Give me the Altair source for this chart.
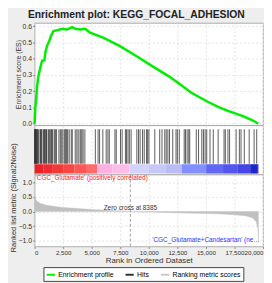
import altair as alt
import pandas as pd

chart_title = "Enrichment plot: KEGG_FOCAL_ADHESION"
pos_label = "'CGC_Glutamate' (positively correlated)"
neg_label = "'CGC_Glutamate+Candesartan' (negatively correlated)"
zero_cross = 8385
x_ticks = [0, 2500, 5000, 7500, 10000, 12500, 15000, 17500, 20000]
series_names = ["Enrichment profile", "Hits", "Ranking metric scores"]
series_colors = ["#00ee00", "#333333", "#c8c8c8"]

# running enrichment score
es_rank = [0, 57, 143, 229, 343, 515, 658, 858, 944, 1087, 1287, 1430, 1659, 2002,
           2431, 2860, 3289, 3575, 4004, 4433, 4862, 6006, 7436, 8866, 10296, 11726,
           12584, 13728, 15158, 16016, 16874, 18304, 19162, 19591]
es_val = [0.0, 0.095, 0.155, 0.236, 0.297, 0.347, 0.388, 0.388, 0.438, 0.479, 0.509,
          0.539, 0.57, 0.576, 0.584, 0.58, 0.594, 0.584, 0.58, 0.584, 0.56, 0.529,
          0.479, 0.418, 0.354, 0.293, 0.25, 0.19, 0.135, 0.105, 0.08, 0.045, 0.018, 0.0]

# hit positions in the ranked list
hits = [5, 20, 45, 70, 95, 130, 160, 200, 240, 290, 330, 470, 520, 580, 620, 750, 800,
        860, 920, 980, 1040, 1080, 1220, 1300, 1410, 1470, 1530, 1590, 1730, 1820, 1916,
        2130, 2250, 2340, 2470, 2600, 2680, 2750, 2820, 2900, 3031, 3210, 3300, 3560,
        3700, 3820, 3980, 4060, 4150, 4250, 4404, 5320, 5560, 5690, 5977, 6270, 6420,
        6540, 7036, 7150, 7522, 7665, 7951, 8050, 8180, 8300, 8450, 8952, 9100, 9238,
        9450, 9600, 9800, 9900, 10010, 10524, 10954, 11154, 11400, 11526, 11669, 11812,
        12098, 12384, 12500, 12670, 13099, 13213, 13356, 13499, 13585, 14157, 14357,
        14643, 14786, 14929, 15072, 15358, 15644, 16072, 16587, 16701, 16930, 17073,
        17645, 17931, 18074, 18361, 18790, 19219, 19448]

# ranked list metric (Signal2Noise)
metric_rank = [0, 30, 100, 250, 500, 1000, 1500, 2000, 2500, 3500, 5000, 6500, 8385,
               10000, 12000, 14000, 16000, 17500, 18500, 19100, 19400, 19550, 19600]
metric_val = [0.75, 0.55, 0.42, 0.34, 0.28, 0.22, 0.19, 0.16, 0.14, 0.11, 0.07, 0.04,
              0.0, -0.02, -0.04, -0.06, -0.08, -0.11, -0.15, -0.22, -0.35, -0.6, -1.05]

# colour bar segments
cb_start = [0, 800, 1600, 2500, 3500, 4500, 5500, 6800, 8320, 10000, 11500, 12870,
            15015, 16500, 17800, 18876, 19477]
cb_end = [800, 1600, 2500, 3500, 4500, 5500, 6800, 8320, 10000, 11500, 12870, 15015,
          16500, 17800, 18876, 19477, 19600]
cb_color = ["#e82228", "#ee2c30", "#f33838", "#f84646", "#fc5656", "#ff6a6a", "#ffb0e2",
            "#ffbce8", "#d2d2fa", "#c8c8f8", "#bcbcf5", "#8290ff", "#6068f4", "#5256ee",
            "#4646e6", "#1a26c8", "#5a2aa8"]

FONT = "Liberation Sans"
W = 232
x_scale = alt.Scale(domain=[0, 20000], nice=False)
stroke_scale = alt.Scale(domain=series_names, range=series_colors)
legend = alt.Legend(title=None, orient="none", legendX=9, legendY=248,
                    direction="horizontal",
                    symbolType="stroke", symbolStrokeWidth=2, symbolSize=70,
                    labelFontSize=7, labelFont=FONT, strokeColor="#444444",
                    fillColor="white", padding=2, columnPadding=7, labelOffset=2)

grid_axis = dict(gridColor="#dddddd", gridDash=[2, 2], gridWidth=0.8)
y_axis_style = dict(titleFontWeight="normal", titleFont=FONT,
                    titlePadding=1, labelFontSize=7, labelFont=FONT, tickSize=2,
                    labelPadding=1, domain=False, labelColor="#333333",
                    titleColor="#333333", **grid_axis)

plain_x_axis = alt.Axis(values=x_ticks, labels=False, ticks=False, domain=False,
                        title=None, **grid_axis)
bottom_x_axis = alt.Axis(values=x_ticks, format=",d", title="Rank in Ordered Dataset",
                         titleFontSize=8, titleFontWeight="normal", titleFont=FONT,
                         titlePadding=1, labelFontSize=6.3, labelFont=FONT, tickSize=2,
                         labelPadding=1, labelOverlap=False, labelFlush=True,
                         domain=False, labelColor="#333333", titleColor="#333333",
                         **grid_axis)

es_df = pd.DataFrame({"rank": es_rank, "es": es_val, "series": series_names[0]})
top = alt.Chart(es_df).mark_line(strokeWidth=2.5).encode(
    x=alt.X("rank:Q", scale=x_scale, axis=plain_x_axis),
    y=alt.Y("es:Q", scale=alt.Scale(domain=[-0.01, 0.62], nice=False, zero=False),
            axis=alt.Axis(values=[0, 0.1, 0.2, 0.3, 0.4, 0.5, 0.6], format=".1f",
                          title="Enrichment score (ES)", titleFontSize=7,
                          **y_axis_style)),
    stroke=alt.Stroke("series:N", scale=stroke_scale, legend=legend),
).properties(width=W, height=104)

hits_df = pd.DataFrame({"rank": hits, "series": series_names[1]})
hit_marks = alt.Chart(hits_df).mark_rule(strokeWidth=0.8).encode(
    x=alt.X("rank:Q", scale=x_scale, axis=plain_x_axis),
    y=alt.value(4), y2=alt.value(39),
    stroke=alt.Stroke("series:N", scale=stroke_scale, legend=legend),
)
cb_df = pd.DataFrame({"rank": cb_start, "end": cb_end, "c": cb_color})
cbar = alt.Chart(cb_df).mark_rect().encode(
    x=alt.X("rank:Q", scale=x_scale, axis=plain_x_axis), x2="end:Q",
    y=alt.value(39.5), y2=alt.value(49),
    fill=alt.Fill("c:N", scale=None),
)
mid = alt.layer(hit_marks, cbar).properties(width=W, height=50)

m_df = pd.DataFrame({"rank": metric_rank, "m": metric_val, "series": series_names[2]})
bx = alt.X("rank:Q", scale=x_scale, axis=bottom_x_axis)
area = alt.Chart(m_df).mark_area(fill="#c0c0c0", strokeWidth=0.5).encode(
    x=bx,
    y=alt.Y("m:Q", scale=alt.Scale(domain=[-1.2, 1.27], nice=False, zero=False),
            axis=alt.Axis(values=[-1, -0.5, 0, 0.5, 1], format=".1f",
                          title="Ranked list metric (Signal2Noise)", titleY=23,
                          titleFontSize=7.5, **y_axis_style)),
    stroke=alt.Stroke("series:N", scale=stroke_scale, legend=legend),
)
zc_df = pd.DataFrame({"rank": [zero_cross], "label": [f"Zero cross at {zero_cross}"]})
zc_rule = alt.Chart(zc_df).mark_rule(strokeDash=[3, 2], color="#888888",
                                      strokeWidth=0.8).encode(x=bx)
zc_text = alt.Chart(zc_df).mark_text(fontSize=6.5, font=FONT, color="#333333",
                                     baseline="bottom").encode(
    x=bx, y=alt.value(37), text="label:N")
pos_df = pd.DataFrame({"rank": [0], "label": [pos_label]})
pos_text = alt.Chart(pos_df).mark_text(fontSize=6.5, font=FONT, color="#ff2020",
                                       align="left", baseline="top", dx=1).encode(
    x=bx, y=alt.value(0.5), text="label:N")
neg_df = pd.DataFrame({"rank": [10300], "label": [neg_label]})
neg_text = alt.Chart(neg_df).mark_text(fontSize=6.5, font=FONT, color="#2040ff",
                                       align="left", baseline="middle", limit=111,
                                       ellipsis="").encode(
    x=bx, y=alt.value(67), text="label:N")
bottom = alt.layer(area, zc_rule, zc_text, pos_text, neg_text).properties(width=W, height=73)

chart = alt.vconcat(top, mid, bottom, spacing=0, bounds="flush").resolve_scale(
    stroke="shared").resolve_legend(stroke="shared").properties(
    title=alt.Title(chart_title, fontSize=10.5, font=FONT, fontWeight="bold",
                    anchor="middle", offset=1, color="#222222"),
    background="#eeeeee", padding={"left": 0, "top": 0, "right": 0, "bottom": 0},
).configure_view(fill="white", stroke="#999999", strokeWidth=0.8)

chart.save("out.html", embed_options={"renderer": "svg", "actions": False})
